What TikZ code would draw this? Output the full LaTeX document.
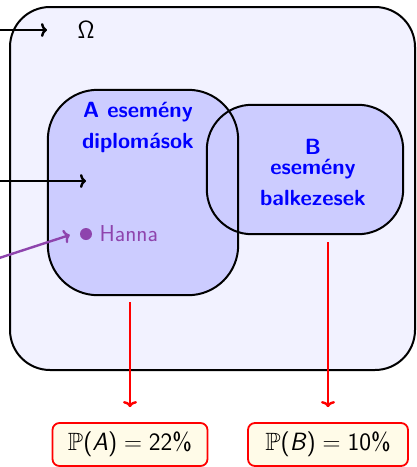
\documentclass[tikz,border=0pt]{standalone}
\usepackage{amsmath}
\usepackage{amssymb}
\usepackage{xcolor}
\usepackage{tikz}
\usetikzlibrary{positioning}
\usetikzlibrary{arrows.meta}
\renewcommand{\familydefault}{\sfdefault}
\definecolor{hannalila}{RGB}{142,68,173}
\definecolor{krem}{RGB}{255,251,232}

\begin{document}
\begin{tikzpicture}[x=1pt,y=-1pt,>={To[length=6pt,width=14pt]},
    halmaz/.style={inner sep=0pt},
    perem/.style={draw=black,line width=2pt},
    cimke/.style={text=blue,font=\fontsize{22}{26}\selectfont\bfseries,align=center},
    nyil/.style={->,line width=2.4pt},
    piros/.style={->,line width=2.4pt,red},
    valsz/.style={draw=red,line width=1.8pt,fill=krem,rounded corners=7pt,
        minimum height=43pt,font=\fontsize{25}{30}\selectfont}]
        \useasboundingbox (0,0) rectangle (417,467);

        % halmazok
        \node[halmaz,perem,fill=blue!5,minimum width=405pt,minimum height=363pt,rounded corners=40pt] (omega) at (212.5,188.5) {};
        \node[halmaz,fill=blue!20,minimum width=190pt,minimum height=205pt,rounded corners=50pt] (A) at (143,192.5) {};
        \node[halmaz,fill=blue!20,minimum width=196pt,minimum height=129pt,rounded corners=45pt] (B) at (305,169.5) {};
        \draw[perem,rounded corners=50pt] (A.south west) rectangle (A.north east);
        \draw[perem,rounded corners=45pt] (B.south west) rectangle (B.north east);

        \node[font=\fontsize{23}{27}\selectfont] (omeganev) at (86,30) {$\mathsf{\Omega}$};
        \node[cimke] (Anev) at (138,127) {A esemény\\[5pt]diplomások};
        \node[cimke] (Bnev) at (313,172) {B\\[-6pt]esemény\\[5pt]balkezesek};

        % Hanna
        \node[circle,fill=hannalila,inner sep=0pt,minimum size=12pt] (hanna) at (86,234) {};
        \node[right=4pt of hanna,text=hannalila,font=\fontsize{23}{27}\selectfont] (hannanev) {Hanna};

        % nyilak balrol
        \coordinate (bal1) at (-5,30);
        \coordinate (cel1) at (47,30);
        \coordinate (bal2) at (-5,181);
        \coordinate (cel2) at (86,181);
        \coordinate (bal3) at (-10,261);
        \draw[nyil] (bal1) -- (cel1);
        \draw[nyil] (bal2) -- (cel2);
        \draw[nyil,hannalila] (bal3) -- ([xshift=-10pt,yshift=-1pt]hanna.west);

        % valoszinusegek
        \node[valsz,minimum width=155pt] (PA) at (130,444.5) {$\mathbb{P}\text{(\textit{A})} = \text{22\%}$};
        \node[valsz,minimum width=160pt] (PB) at (328,444.5) {$\mathbb{P}\text{(\textit{B})} = \text{10\%}$};
        \draw[piros,shorten <=7pt,shorten >=15pt] (A.south -| PA.north) -- (PA.north);
        \draw[piros,shorten <=8pt,shorten >=15pt] (B.south -| PB.north) -- (PB.north);
\end{tikzpicture}
\end{document}
